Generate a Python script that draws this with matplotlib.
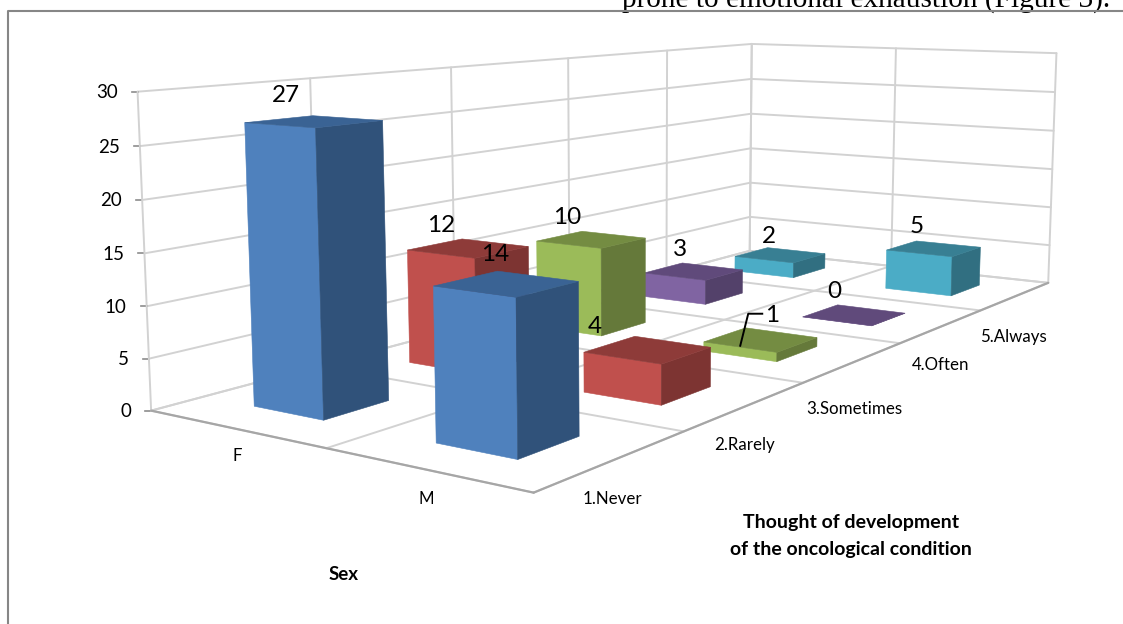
import numpy as np
import matplotlib
matplotlib.use("Agg")
import matplotlib.pyplot as plt
from matplotlib.patches import Polygon

# Chart data: patients by sex and by how often they think about developing the condition
sexes = ["F", "M"]
answers = ["1.Never", "2.Rarely", "3.Sometimes", "4.Often", "5.Always"]
counts_f = [27, 12, 10, 3, 2]
counts_m = [14, 4, 1, 0, 5]
z_ticks = [0, 5, 10, 15, 20, 25, 30]

# Shades per answer: lit front face, top face, shaded side face
shades = [
    ("#4F81BD", "#3A6394", "#30527A"),
    ("#C0504D", "#8E3B39", "#7D3432"),
    ("#9BBB59", "#748C42", "#65793A"),
    ("#8064A2", "#604A7B", "#53416A"),
    ("#4BACC6", "#387F93", "#316F81"),
]

# Camera calibration: box anchors (sex, answer, count) and where they land on the canvas
anchors_world = np.array([
    (0, 0, 0), (2, 0, 0), (0, 5, 0), (2, 5, 0), (0, 0, 30), (0, 5, 30),
    (2, 5, 30), (1, 0, 0), (1, 5, 30), (0, 1, 30), (0, 4, 30),
], float)
anchors_canvas = np.array([
    (150, 410), (533, 493), (750, 251), (1048, 283), (137, 92), (752, 43),
    (1057, 53), (328, 448), (895, 48), (311, 78), (667, 52),
], float)


def fit_camera(world, canvas):
    rows, rhs = [], []
    for (x, y, z), (u, v) in zip(world, canvas):
        rows.append([x, y, z, 1, 0, 0, 0, 0, -u * x, -u * y, -u * z])
        rows.append([0, 0, 0, 0, x, y, z, 1, -v * x, -v * y, -v * z])
        rhs += [u, v]
    sol = np.linalg.lstsq(np.array(rows), np.array(rhs), rcond=None)[0]
    return np.append(sol, 1.0).reshape(3, 4)


CAMERA = fit_camera(anchors_world, anchors_canvas)


def project(x, y, z):
    u, v, w = CAMERA @ np.array([x, y, z, 1.0])
    return u / w, v / w


plt.rcParams["font.family"] = ["Lato", "DejaVu Sans"]
fig = plt.figure(figsize=(11.23, 6.24), dpi=100)
ax = fig.add_axes([0, 0, 1, 1])
ax.set_xlim(0, 1123)
ax.set_ylim(624, 0)
ax.axis("off")

# Chart outline and the line of body text running above it
ax.plot([8, 8, 1123], [624, 11, 11], color="#868686", lw=1.5, zorder=5)
ax.text(1110, 6.5, "prone to emotional exhaustion (Figure 3).", family="Liberation Serif",
        fontsize=21.1, ha="right", va="baseline", color="black", zorder=4)

GRID = "#D2D2D2"
AXIS = "#A6A6A6"


def line3d(p, q, color=GRID, lw=1.4):
    a, b = project(*p), project(*q)
    ax.plot([a[0], b[0]], [a[1], b[1]], color=color, lw=lw, zorder=1, solid_capstyle="round")


nx, ny = len(sexes), len(answers)
for z in z_ticks:
    line3d((0, 0, z), (0, ny, z))
    line3d((0, ny, z), (nx, ny, z))
    u, v = project(0, 0, z)
    ax.plot([u - 6, u], [v, v], color="#8C8C8C", lw=1.2, zorder=1)
    ax.text(u - 20, v + 1, str(z), ha="right", va="center", fontsize=13.5)
for j in range(ny + 1):
    line3d((0, j, 0), (0, j, z_ticks[-1]))
    line3d((0, j, 0), (nx, j, 0))
for i in range(nx + 1):
    line3d((i, ny, 0), (i, ny, z_ticks[-1]))
    line3d((i, 0, 0), (i, ny, 0))
line3d((0, 0, 0), (nx, 0, 0), AXIS, 1.6)
line3d((nx, 0, 0), (nx, ny, 0), AXIS, 1.6)

# Bars are painted from the far row forwards so nearer ones overlap them
GAP_X, GAP_Y = 0.3, 0.3
order = 10


def bar3d(i, j, value, colors):
    global order
    x0, x1 = i + GAP_X, i + 1 - GAP_X
    y0, y1 = j + GAP_Y, j + 1 - GAP_Y
    faces = [
        ([(x0, y0, 0), (x1, y0, 0), (x1, y0, value), (x0, y0, value)], colors[0]),
        ([(x1, y0, 0), (x1, y1, 0), (x1, y1, value), (x1, y0, value)], colors[2]),
        ([(x0, y0, value), (x1, y0, value), (x1, y1, value), (x0, y1, value)], colors[1]),
    ]
    for corners, color in faces:
        ax.add_patch(Polygon([project(*c) for c in corners], closed=True, facecolor=color,
                             edgecolor=color, lw=0.4, zorder=order))
    order += 1


for j in reversed(range(ny)):
    bar3d(0, j, counts_f[j], shades[j])
    bar3d(1, j, counts_m[j], shades[j])

# Value labels sit a fixed pixel offset away from the centre of each bar top
offsets_f = [(-28, -26), (-27, -23), (-24, -22), (-14, -22), (-11, -19)]
offsets_m = [(-11, -29), (-53, -23), (11, -24), (-20, -24), (-17, -22)]
for j in range(ny):
    for i, (vals, offs) in enumerate(((counts_f, offsets_f), (counts_m, offsets_m))):
        u, v = project(i + 0.5, j + 0.5, vals[j])
        ax.text(u + offs[j][0], v + offs[j][1], str(vals[j]), ha="center", va="center",
                fontsize=17.5, zorder=40)

# Leader line tying the small male "Sometimes" bar to its label
u, v = project(1.5, 2.5, counts_m[2])
ax.plot([u - 20.5, u - 12.5, u + 1.5], [v + 6, v - 26, v - 26], color="black", lw=1.4, zorder=41)

# Category labels along the two floor edges
for i, (name, off) in enumerate(zip(sexes, [(2, 27), (1, 30)])):
    u, v = project(i + 0.5, 0, 0)
    ax.text(u + off[0], v + off[1], name, ha="center", va="center", fontsize=12.2)
for j, (name, off) in enumerate(zip(answers, [(-1, 39), (-2, 39), (0, 47), (-1, 39), (-2, 41)])):
    u, v = project(nx, j + 0.5, 0)
    ax.text(u + off[0], v + off[1], name, ha="center", va="center", fontsize=12.2)

ax.text(344, 575, "Sex", ha="center", va="center", fontsize=13.5, fontweight="bold")
ax.text(851, 536, "Thought of development\nof the oncological condition", ha="center",
        va="center", fontsize=14, fontweight="bold", linespacing=1.65)

fig.savefig("out.png", dpi=100, facecolor="white")
